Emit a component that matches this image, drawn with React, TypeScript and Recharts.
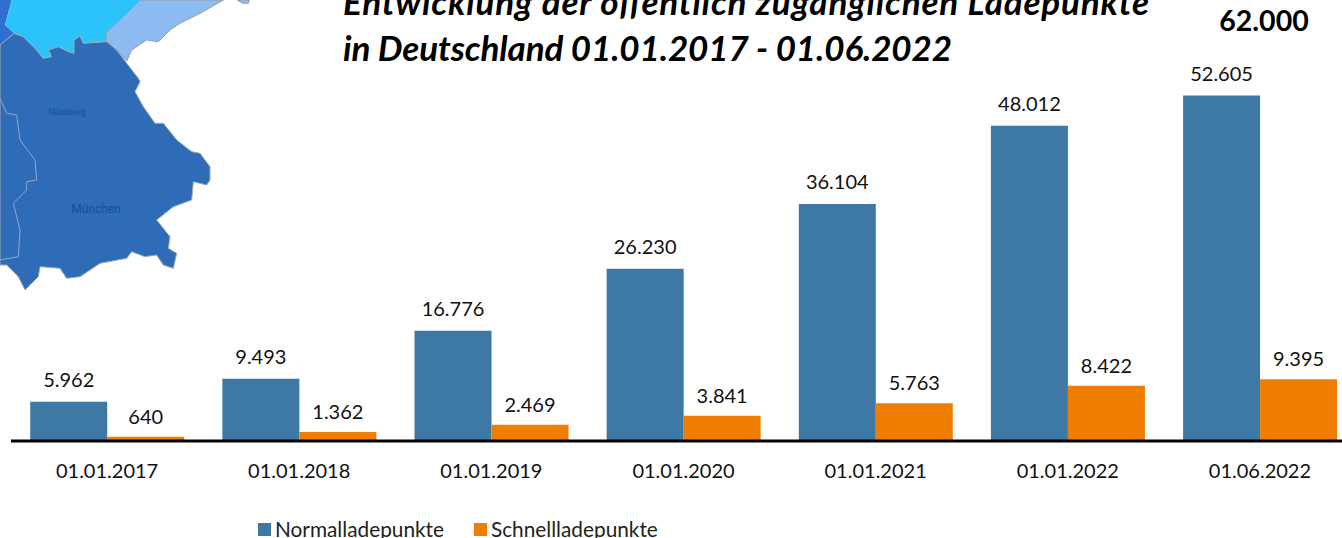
import React from "react";
import { BarChart, Bar, XAxis, YAxis, LabelList, Legend } from "recharts";

const categories = ["01.01.2017", "01.01.2018", "01.01.2019", "01.01.2020", "01.01.2021", "01.01.2022", "01.06.2022"];
const normalValues = [5962, 9493, 16776, 26230, 36104, 48012, 52605];
const fastValues = [640, 1362, 2469, 3841, 5763, 8422, 9395];
const titleLines = ["Entwicklung der öffentlich zugänglichen Ladepunkte", "in Deutschland 01.01.2017 - 01.06.2022"];
const totalLabel = "62.000";

const rows = categories.map((date, i) => ({ date, normal: normalValues[i], fast: fastValues[i] }));

const FONT = "Lato, 'Open Sans', sans-serif";
const BLUE = "#3e78a5";
const ORANGE = "#ef7d00";

const scale = (s: string) =>
  s.split(" ").map((p) => p.split(",").map((v) => Number(v) / 3).join(",")).join(" ");

const mapBavaria = "0,135 42,100 70,110 105,145 130,175 155,170 145,150 175,140 205,155 222,160 222,120 240,108 250,130 320,125 350,150 380,190 415,235 420,245 405,275 430,320 465,370 490,370 530,420 575,455 600,460 630,500 630,540 620,555 580,545 575,600 520,620 470,660 510,710 505,745 530,760 520,805 490,795 470,765 435,770 395,755 380,775 300,790 240,830 200,835 180,805 120,800 115,830 75,870 55,830 20,795 0,795";
const mapCyan = "35,0 15,75 42,100 70,110 105,145 130,175 155,170 145,150 175,140 205,155 222,160 222,120 240,108 250,130 320,125 318,100 370,50 420,0";
const mapLight = "420,0 370,50 318,100 320,125 350,150 380,183 395,150 440,120 475,125 510,90 540,70 600,40 670,0";
const mapHesse = "0,0 35,0 15,75 42,100 0,135";
const mapSpeck = "712,0 748,0 745,10 728,10";
const mapBorder = "0,295 20,340 50,345 60,420 105,480 110,540 80,545 80,570 40,610 60,690 55,770 0,780";

const fmt = (v: number) => v.toLocaleString("de-DE");

export default function App() {
  return (
    <div style={{ position: "absolute", left: 0, top: 0, width: 1342, height: 538, overflow: "hidden", background: "#fff" }}>
      <svg width={1342} height={538} style={{ position: "absolute", left: 0, top: 0 }}>
        <polygon points={scale(mapHesse)} fill="#2f6fd0" />
        <polygon points={scale(mapCyan)} fill="#2cc3fb" />
        <polygon points={scale(mapLight)} fill="#8dbcf3" stroke="#9a9a9a" strokeWidth={1} />
        <polygon points={scale(mapSpeck)} fill="#8dbcf3" stroke="#9a9a9a" strokeWidth={1} />
        <polygon points={scale(mapBavaria)} fill="#2e6cb7" stroke="#a0a8b0" strokeWidth={1} />
        <polyline points={scale(mapBorder)} fill="none" stroke="#8fa9c9" strokeWidth={1} />
        <text x={67} y={115} textAnchor="middle" fontFamily="Roboto" fontSize={9} fill="#14509c">Nürnberg</text>
        <text x={96} y={213} textAnchor="middle" fontFamily="Roboto" fontSize={12} fill="#14509c">München</text>
        <text x={343} y={15} textLength={806} lengthAdjust="spacing" fontFamily={FONT} fontSize={35} fontWeight={700} fontStyle="italic" fill="#000">{titleLines[0]}</text>
        <text x={343} y={61} textLength={609} lengthAdjust="spacing" fontFamily={FONT} fontSize={35} fontWeight={700} fontStyle="italic" fill="#000">{titleLines[1]}</text>
        <text x={1264} y={31} textAnchor="middle" fontFamily={FONT} fontSize={28.5} fontWeight={700} fill="#000">{totalLabel}</text>
      </svg>
      <div style={{ position: "absolute", left: 0, top: 1 }}>
        <BarChart width={1360} height={538} data={rows} margin={{ top: 0, right: 4, bottom: 0, left: 11 }} barCategoryGap="10%" barGap={0}>
          <XAxis
            dataKey="date"
            axisLine={{ stroke: "#000", strokeWidth: 3 }}
            tickLine={false}
            height={74}
            tickMargin={17}
            tick={{ fontFamily: FONT, fontSize: 20, fill: "#111" }}
            interval={0}
          />
          <YAxis hide domain={[0, 67000]} />
          <Legend
            wrapperStyle={{ left: 258, top: 516, bottom: "auto", width: "auto" }}
            content={() => (
              <div style={{ display: "flex", fontFamily: FONT, fontSize: 20.8, color: "#222", lineHeight: "24px", whiteSpace: "nowrap" }}>
                <span style={{ display: "inline-block", width: 13, height: 13, background: BLUE, margin: "6px 4px 0 0" }} />
                <span style={{ marginRight: 30 }}>Normalladepunkte</span>
                <span style={{ display: "inline-block", width: 13, height: 13, background: ORANGE, margin: "6px 4px 0 0" }} />
                <span>Schnellladepunkte</span>
              </div>
            )}
          />
          <Bar dataKey="normal" name="Normalladepunkte" fill={BLUE} isAnimationActive={false}>
            <LabelList dataKey="normal" position="top" offset={15} formatter={fmt} style={{ fontFamily: FONT, fontSize: 20, fill: "#111" }} />
          </Bar>
          <Bar dataKey="fast" name="Schnellladepunkte" fill={ORANGE} isAnimationActive={false}>
            <LabelList dataKey="fast" position="top" offset={13} formatter={fmt} style={{ fontFamily: FONT, fontSize: 20, fill: "#111" }} />
          </Bar>
        </BarChart>
      </div>
    </div>
  );
}
